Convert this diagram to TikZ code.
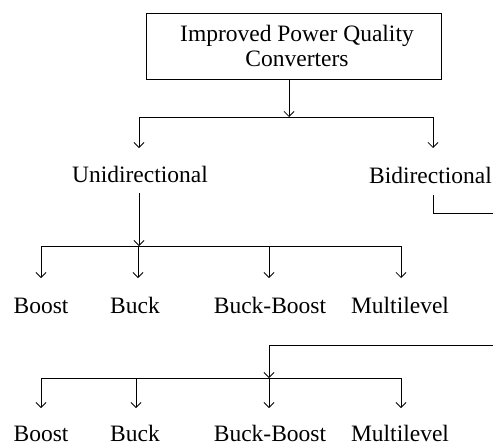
\documentclass[tikz,border=0pt]{standalone}
\usepackage{fontspec}
\setmainfont{Liberation Serif}
\usetikzlibrary{arrows.meta}
\tikzset{
  lbl/.style={inner sep=0pt, anchor=base, font=\fontsize{23.5}{25}\selectfont},
  box/.style={draw, line width=0.8pt, minimum width=295pt, minimum height=66pt, inner sep=0pt, align=center, font=\fontsize{23.5}{25}\selectfont},
  ln/.style={line width=0.8pt},
  arr/.style={ln, -{Straight Barb[length=5pt,width=10pt,line width=0.8pt]}}
}
\begin{document}
\begin{tikzpicture}[x=1pt,y=-1pt]
\useasboundingbox (0,0) rectangle (493,447);
% nodes
\node[box] (top) at (293.5,46) {\hspace*{7pt}Improved Power Quality\\\hspace*{7pt}Converters};
\node[lbl] (uni) at (140,182) {Unidirectional};
\node[lbl, anchor=base east] (bi) at (492,183) {Bidirectional};
\node[lbl] (b1) at (41,313) {Boost};
\node[lbl] (b2) at (135,313) {Buck};
\node[lbl] (b3) at (270,313) {Buck-Boost};
\node[lbl] (b4) at (400,313) {Multilevel};
\node[lbl] (c1) at (41,441) {Boost};
\node[lbl] (c2) at (135,441) {Buck};
\node[lbl] (c3) at (270,441) {Buck-Boost};
\node[lbl] (c4) at (400,441) {Multilevel};
% junction coordinates
\coordinate (j0) at (289,117);
\coordinate (jl) at (139,117);
\coordinate (jr) at (433,117);
\coordinate (ua) at (139,148);
\coordinate (ba) at (433,148);
\coordinate (us) at (139,193);
\coordinate (u1) at (139,246);
\coordinate (r1l) at (41,246);
\coordinate (r1r) at (401,246);
\coordinate (bs) at (433,195);
\coordinate (bc) at (433,213);
\coordinate (be) at (500,213);
\coordinate (ce) at (500,345);
\coordinate (cc) at (269,345);
\coordinate (c0) at (269,378);
\coordinate (r2l) at (41,378);
\coordinate (r2r) at (401,378);
% top level
\draw[arr] (top.south -| j0) -- (j0);
\draw[ln] (jl) -- (jr);
\draw[arr] (jl) -- (ua);
\draw[arr] (jr) -- (ba);
% unidirectional branch
\draw[arr] (us) -- (u1);
\draw[ln] (r1l) -- (r1r);
\draw[arr] (r1l) -- (41,278);
\draw[arr] (138,246) -- (138,278);
\draw[arr] (269,246) -- (269,278);
\draw[arr] (r1r) -- (401,278);
% bidirectional branch
\draw[ln] (bs) -- (bc) -- (be);
\draw[arr] (ce) -- (cc) -- (c0);
\draw[ln] (r2l) -- (r2r);
\draw[arr] (r2l) -- (41,408);
\draw[arr] (136,378) -- (136,408);
\draw[arr] (269,378) -- (269,408);
\draw[arr] (r2r) -- (401,408);
\end{tikzpicture}
\end{document}
